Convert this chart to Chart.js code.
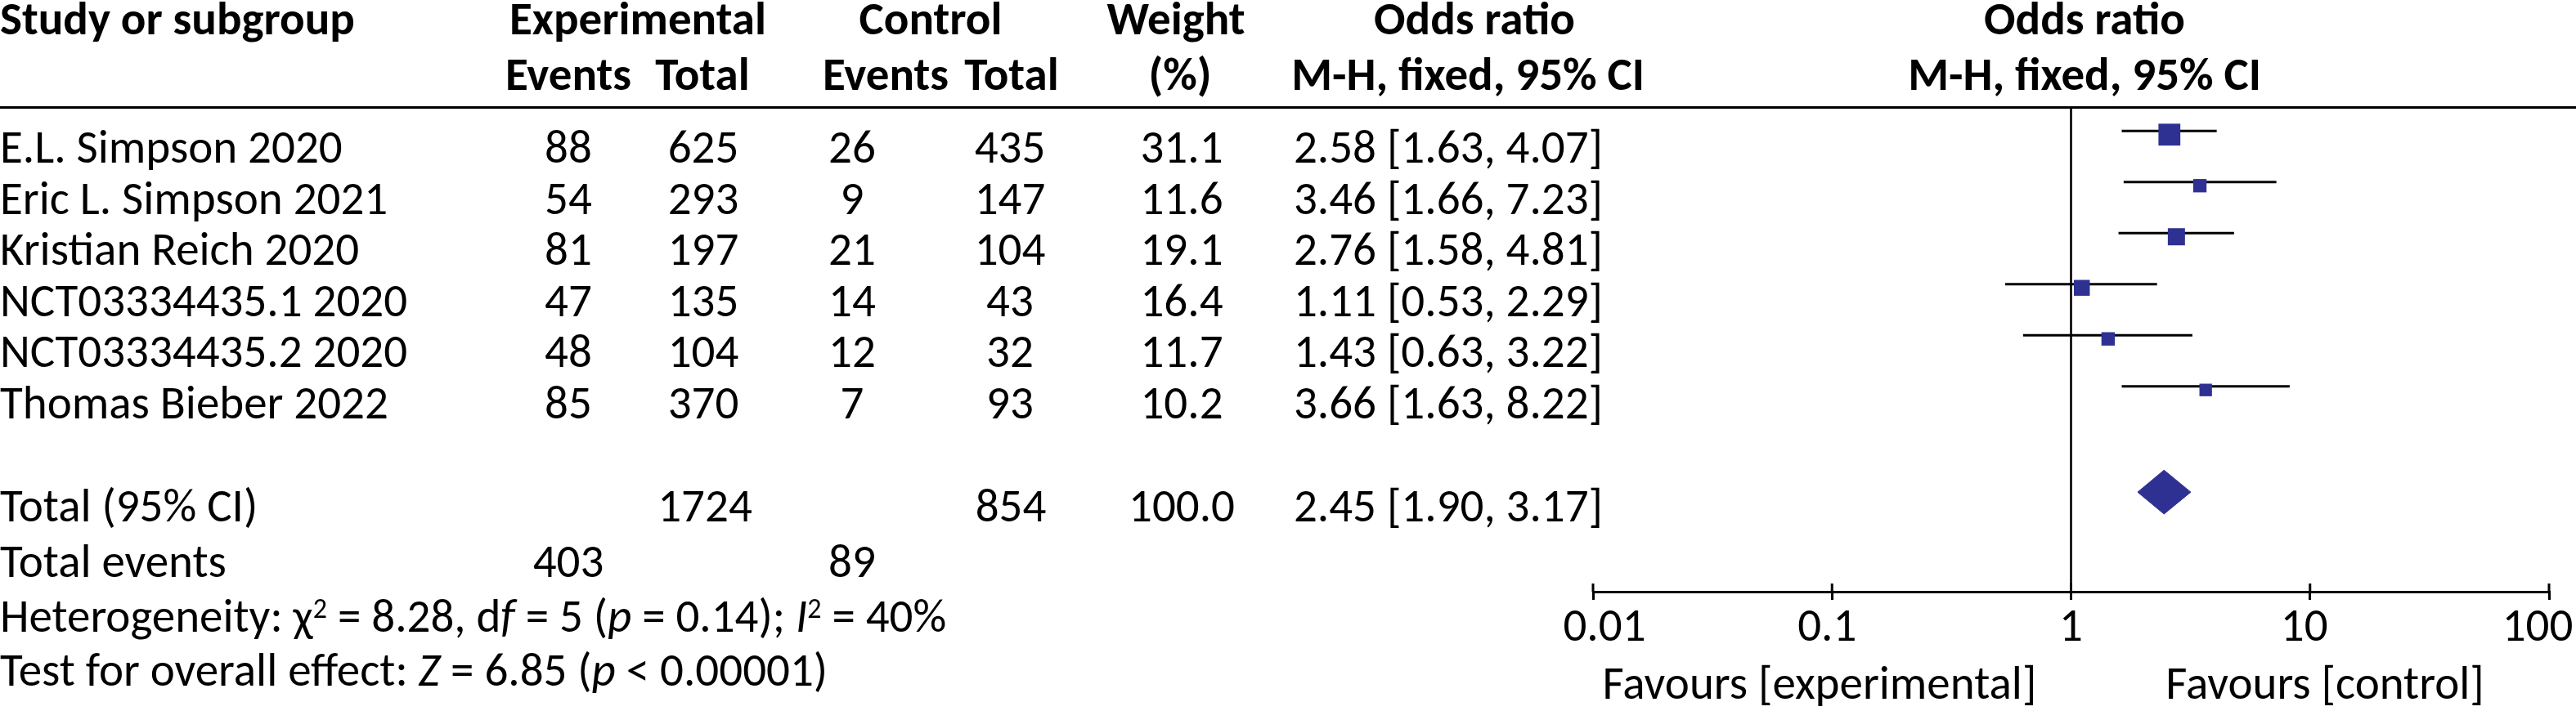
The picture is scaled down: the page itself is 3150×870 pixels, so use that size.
<!DOCTYPE html>
<html><head><meta charset="utf-8">
<script src="https://cdn.jsdelivr.net/npm/chart.js@4.4.1/dist/chart.umd.min.js"></script>
<style>html,body{margin:0;padding:0;background:#fff;overflow:hidden}canvas{display:block}</style></head>
<body><canvas id="forest" width="3150" height="870" style="width:3150px;height:870px"></canvas>
<script>
// ---------------- data ----------------
const studies    = ["E.L. Simpson 2020","Eric L. Simpson 2021","Kristian Reich 2020","NCT03334435.1 2020","NCT03334435.2 2020","Thomas Bieber 2022"];
const expEvents  = [88, 54, 81, 47, 48, 85];
const expTotal   = [625, 293, 197, 135, 104, 370];
const ctrlEvents = [26, 9, 21, 14, 12, 7];
const ctrlTotal  = [435, 147, 104, 43, 32, 93];
const weights    = [31.1, 11.6, 19.1, 16.4, 11.7, 10.2];
const oddsRatio  = [2.58, 3.46, 2.76, 1.11, 1.43, 3.66];
const ciLower    = [1.63, 1.66, 1.58, 0.53, 0.63, 1.63];
const ciUpper    = [4.07, 7.23, 4.81, 2.29, 3.22, 8.22];
const totalOR = 2.45, totalLower = 1.90, totalUpper = 3.17;
const totalExpN = 1724, totalCtrlN = 854, totalWeight = 100.0;
const totalExpEvents = 403, totalCtrlEvents = 89;
const tickValues = [0.01, 0.1, 1, 10, 100];
const tickLabels = ["0.01", "0.1", "1", "10", "100"];
const totalRow = 7;

// ---------------- style / layout ----------------
const BLUE = '#2E3192';
const FAM = 'Carlito, "Liberation Sans", sans-serif';
const FONT = '57px ' + FAM, BOLD = 'bold 57px ' + FAM, ITAL = 'italic 57px ' + FAM, SUP = '34px ' + FAM;
const diamondHalf = 0.43;          // half height of the summary diamond, in row units
const squareScale = 4.8;           // square side = squareScale * sqrt(weight)
const markerDrop = 0.07;           // markers sit slightly below the CI lines (row units)
const tickLabelShift = [14, -6, 0, -7, -14];   // horizontal nudges of the axis labels (px)
const yMin = -0.47, yMax = 9.02;

const fmt2 = v => v.toFixed(2);
const orText = (o, l, u) => fmt2(o) + ' [' + fmt2(l) + ', ' + fmt2(u) + ']';

function drawRich(ctx, segs, x, y) {
  let cx = x;
  ctx.textAlign = 'left';
  segs.forEach(([t, st]) => {
    ctx.font = st === 'i' ? ITAL : (st === 's' ? SUP : FONT);
    ctx.fillText(t, cx, st === 's' ? y - 17 : y);
    cx += ctx.measureText(t).width;
  });
}

const forestPlugin = {
  id: 'forestDecor',
  beforeDraw(chart) {
    const xs = chart.scales.x;
    if (xs && xs.getLabelItems) {
      const items = xs.getLabelItems(chart.chartArea);
      items.forEach((it, i) => {
        if (!it._shifted && it.options && it.options.translation) {
          it.options.translation[0] += tickLabelShift[i] || 0;
          it._shifted = true;
        }
      });
    }
  },
  beforeDatasetsDraw(chart) {
    const ctx = chart.ctx, xs = chart.scales.x, a = chart.chartArea;
    ctx.save();
    ctx.fillStyle = '#000';
    // line of no effect
    const x1 = xs.getPixelForValue(1);
    ctx.fillRect(x1 - 1.3, a.top, 2.6, a.bottom - a.top);
    // upper halves of the axis ticks
    tickValues.forEach(v => {
      const px = xs.getPixelForValue(v);
      ctx.fillRect(px - 1.5, xs.top - 10, 3, 10);
    });
    ctx.restore();
  },
  afterDraw(chart) {
    const ctx = chart.ctx, ys = chart.scales.y;
    ctx.save();
    ctx.fillStyle = '#000';
    ctx.textBaseline = 'alphabetic';
    // header rule
    ctx.fillRect(0, 130, 3150, 3);
    const put = (t, x, y, align, font) => { ctx.font = font || FONT; ctx.textAlign = align; ctx.fillText(t, x, y); };
    // header
    const h1 = 42, h2 = 110;
    put('Study or subgroup', 0, h1, 'left', BOLD);
    put('Experimental', 780, h1, 'center', BOLD);
    put('Control', 1138, h1, 'center', BOLD);
    put('Weight', 1438, h1, 'center', BOLD);
    put('Odds ratio', 1803, h1, 'center', BOLD);
    put('Odds ratio', 2549, h1, 'center', BOLD);
    put('Events', 695, h2, 'center', BOLD);
    put('Total', 859, h2, 'center', BOLD);
    put('Events', 1083, h2, 'center', BOLD);
    put('Total', 1237, h2, 'center', BOLD);
    put('(%)', 1443, h2, 'center', BOLD);
    put('M-H, fixed, 95% CI', 1795, h2, 'center', BOLD);
    put('M-H, fixed, 95% CI', 2549, h2, 'center', BOLD);
    // study rows
    studies.forEach((s, i) => {
      const y = ys.getPixelForValue(i) + 39;
      put(s, 0, y, 'left');
      put(String(expEvents[i]), 695, y, 'center');
      put(String(expTotal[i]), 860, y, 'center');
      put(String(ctrlEvents[i]), 1042, y, 'center');
      put(String(ctrlTotal[i]), 1235, y, 'center');
      put(weights[i].toFixed(1), 1445, y, 'center');
      put(orText(oddsRatio[i], ciLower[i], ciUpper[i]), 1771, y, 'center');
    });
    // totals
    const yt = ys.getPixelForValue(totalRow) + 40;
    put('Total (95% CI)', 0, yt, 'left');
    put(String(totalExpN), 862, yt, 'center');
    put(String(totalCtrlN), 1236, yt, 'center');
    put(totalWeight.toFixed(1), 1445, yt, 'center');
    put(orText(totalOR, totalLower, totalUpper), 1771, yt, 'center');
    put('Total events', 0, 706, 'left');
    put(String(totalExpEvents), 695, 706, 'center');
    put(String(totalCtrlEvents), 1042, 706, 'center');
    drawRich(ctx, [['Heterogeneity: ', 'n'], ['\u03C7', 'n'], ['2', 's'], [' = 8.28, d', 'n'], ['f', 'i'], [' = 5 (', 'n'],
                   ['p', 'i'], [' = 0.14); ', 'n'], ['I', 'i'], ['2', 's'], [' = 40%', 'n']], 0, 773);
    drawRich(ctx, [['Test for overall effect: ', 'n'], ['Z', 'i'], [' = 6.85 (', 'n'], ['p', 'i'], [' < 0.00001)', 'n']], 0, 839);
    // favours labels
    put('Favours [experimental]', 2225, 855, 'center');
    put('Favours [control]', 2843, 855, 'center');
    ctx.restore();
  }
};

// ---------------- datasets ----------------
const datasets = [];
datasets.push({
  label: 'Study OR', type: 'scatter', order: 0, yAxisID: 'ym',
  data: oddsRatio.map((o, i) => ({ x: o, y: i })),
  pointStyle: 'rect',
  pointRadius: weights.map(w => squareScale * Math.sqrt(w) / Math.SQRT2),
  backgroundColor: BLUE, borderColor: BLUE, borderWidth: 0
});
datasets.push({
  label: 'Total', type: 'scatter', order: 1, yAxisID: 'ym', showLine: true, fill: 'shape', tension: 0,
  data: [{ x: totalLower, y: totalRow }, { x: totalOR, y: totalRow - diamondHalf },
         { x: totalUpper, y: totalRow }, { x: totalOR, y: totalRow + diamondHalf },
         { x: totalLower, y: totalRow }],
  pointRadius: 0, borderColor: BLUE, backgroundColor: BLUE, borderWidth: 1
});
studies.forEach((s, i) => datasets.push({
  label: s + ' CI', type: 'scatter', order: 2, yAxisID: 'y', showLine: true,
  data: [{ x: ciLower[i], y: i }, { x: ciUpper[i], y: i }],
  pointRadius: 0, borderColor: '#000', borderWidth: 3
}));

Chart.defaults.font.family = FAM;
Chart.defaults.color = '#000';

new Chart(document.getElementById('forest'), {
  type: 'scatter',
  data: { datasets },
  options: {
    responsive: false, animation: false, devicePixelRatio: 1, events: [],
    layout: { padding: { left: 1948, right: 33, top: 131, bottom: 0 } },
    plugins: { legend: { display: false }, tooltip: { enabled: false } },
    scales: {
      x: {
        type: 'logarithmic', position: 'bottom', min: 0.01, max: 100,
        afterBuildTicks: s => { s.ticks = tickValues.map(v => ({ value: v, major: true })); },
        afterFit: s => { s.paddingLeft = 0; s.paddingRight = 0; s.height = 146; },
        ticks: { callback: (v, i) => tickLabels[i], font: { size: 57, family: FAM }, color: '#000',
                 padding: 2, maxRotation: 0, autoSkip: false },
        grid: { display: true, drawOnChartArea: false, drawTicks: true, tickLength: 10, color: '#000', lineWidth: 3 },
        border: { display: true, color: '#000', width: 3 }
      },
      y:  { type: 'linear', display: false, reverse: true, min: yMin, max: yMax },
      ym: { type: 'linear', display: false, reverse: true, min: yMin - markerDrop, max: yMax - markerDrop }
    }
  },
  plugins: [forestPlugin]
});
</script></body></html>
